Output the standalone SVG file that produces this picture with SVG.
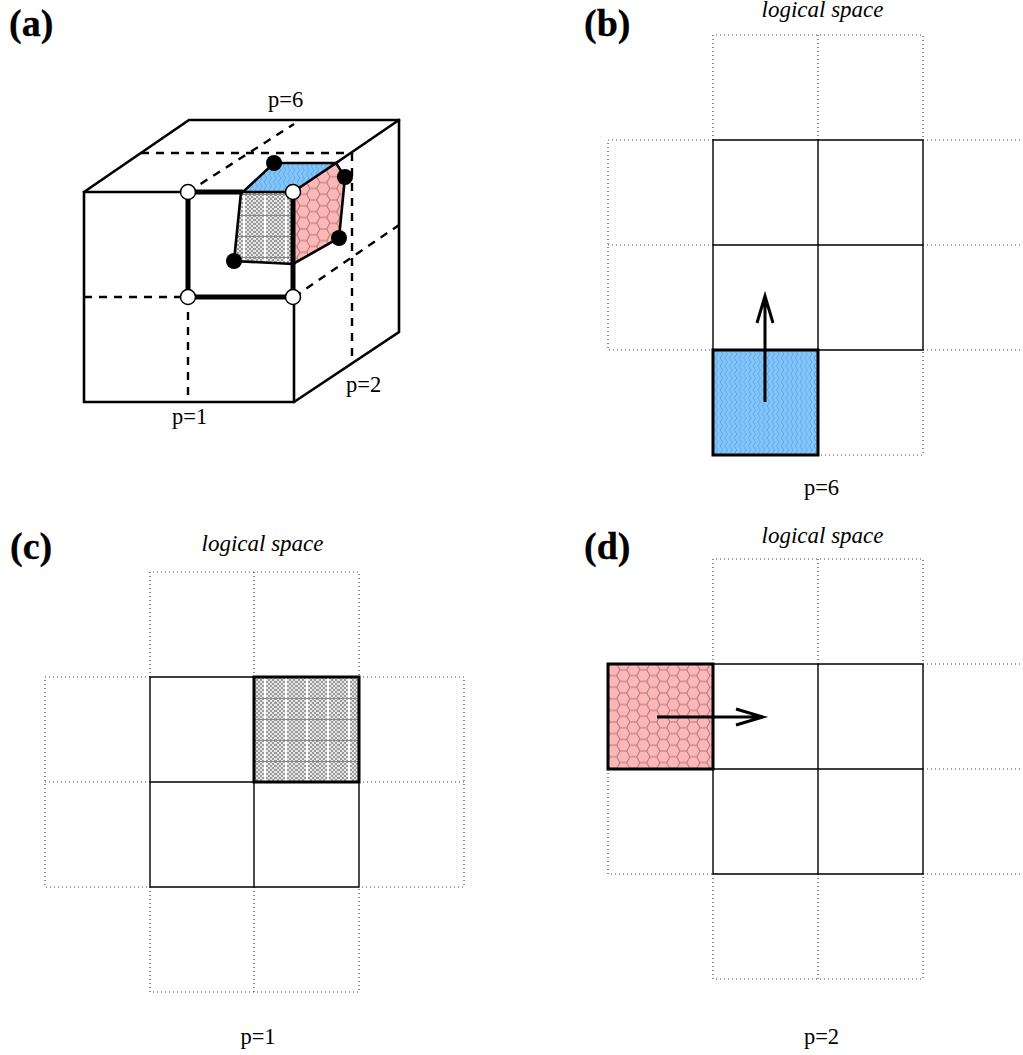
<svg xmlns="http://www.w3.org/2000/svg" width="1023" height="1055" viewBox="0 0 1023 1055">
<style>
text{font-family:"Liberation Serif","Times New Roman",serif;font-size:22.5px;fill:#000}
.h{font-weight:bold;font-size:38px;stroke:#000;stroke-width:.3}
.i{font-style:italic;font-size:23px}
.m{text-anchor:middle}
.d{fill:none;stroke:#444;stroke-width:1.2;stroke-dasharray:1 3}
.g{fill:none;stroke:#000;stroke-width:1.4}
.c{fill:none;stroke:#000;stroke-width:2.6;stroke-linecap:square}
.t{fill:none;stroke:#000;stroke-width:5}
.da{fill:none;stroke:#000;stroke-width:2.4;stroke-dasharray:8 7}
.o{fill:#fff;stroke:#000;stroke-width:1.5}
.a{fill:none;stroke:#000;stroke-width:3}
</style>
<defs>
<pattern id="hex" width="20" height="11.6" patternUnits="userSpaceOnUse" patternTransform="translate(610 664)">
<rect width="20" height="11.6" fill="#ffb6b6"/>
<path d="M0 0H6.67L10 5.8H16.67L20 11.6M16.67 5.8L20 0M10 5.8L6.67 11.6H0" fill="none" stroke="#a87a7a" stroke-width="1"/>
</pattern>
<pattern id="wave" width="4.7" height="8" patternUnits="userSpaceOnUse">
<rect width="4.7" height="8" fill="#80c6fc"/>
<path d="M2.3 0L3.6 2L1 6L2.3 8" fill="none" stroke="#5f9ad0" stroke-width="0.8"/>
</pattern>
<pattern id="chk" width="4" height="4" patternUnits="userSpaceOnUse">
<rect width="4" height="4" fill="#e6e6e6"/>
<rect width="2" height="2" fill="#9a9a9a"/>
<rect x="2" y="2" width="2" height="2" fill="#9a9a9a"/>
</pattern>
<pattern id="gry" width="21" height="21" patternUnits="userSpaceOnUse" patternTransform="translate(254 677)">
<rect width="21" height="21" fill="url(#chk)"/>
<rect x="10" width="2" height="21" fill="#fff"/>
<rect y="0" width="21" height="1" fill="#888"/>
</pattern>
</defs>

<g id="panel-a">
<path fill="url(#gry)" d="M241 192H293V264L234 261Z"/>
<path fill="url(#wave)" d="M243 192L274 163H336L293 192Z"/>
<path fill="url(#hex)" d="M293 192L336 163L345 177L339 238L293 264Z"/>
<g id="a-connectors">
<path class="c" d="M84 192H188M84 192V402H294V297M84 192L189 120H399M399 120V332L294 402M336 163L399 120"/>
<path class="da" d="M84 297H188M188 297V402M188 192L294 124M294 297L399 225M352 153V362M141 153H352"/>
<path class="t" d="M188 192H243M188 192V297H293M293 192V297"/>
<path class="c" d="M243 192H293M243 192L274 163H336L293 192M241 192L234 261L293 264M293 264L339 238L345 177L336 163"/>
</g>
<g id="a-points">
<circle cx="234" cy="261" r="8"/><circle cx="274" cy="163" r="8"/><circle cx="345" cy="177" r="8"/><circle cx="339" cy="238" r="8"/>
<circle class="o" cx="188" cy="192" r="7.5"/><circle class="o" cx="293" cy="192" r="7.5"/><circle class="o" cx="188" cy="297" r="7.5"/><circle class="o" cx="293" cy="297" r="7.5"/>
</g>
<text class="h" x="9" y="36">(a)</text>
<text x="268" y="107">p=6</text>
<text x="346" y="392">p=2</text>
<text x="172" y="424">p=1</text>
</g>

<g id="panel-b">
<path class="d" d="M713 140V35H923V140M818 35V140M713 140H608V350H713M608 245H713M923 140H1023M923 245H1023M923 350H1023M818 350V455H923V350"/>
<path class="g" d="M713 140H923V350H713ZM818 140V350M713 245H923"/>
<rect x="713" y="350" width="105" height="105" fill="url(#wave)" stroke="#000" stroke-width="3"/>
<path class="a" d="M765 402V296M757 323L765 296L773 323"/>
<text class="h" x="584" y="36">(b)</text>
<text class="i m" x="822.5" y="16.5">logical space</text>
<text class="m" x="821.5" y="495">p=6</text>
</g>

<g id="panel-c">
<path class="d" d="M150 677V572H359V677M254 572V677M150 677H45V887H150M45 782H150M359 677H464V887H359M359 782H464M150 887V992H359V887M254 887V992"/>
<path class="g" d="M150 677H359V887H150ZM254 677V887M150 782H359"/>
<rect x="254" y="677" width="105" height="105" fill="url(#gry)" stroke="#000" stroke-width="3"/>
<text class="h" x="10" y="559">(c)</text>
<text class="i m" x="262.5" y="551">logical space</text>
<text class="m" x="258" y="1044">p=1</text>
</g>

<g id="panel-d">
<path class="d" d="M713 664V559H923V664M818 559V664M608 769V874H713M608 664V769M923 664H1023M923 769H1023M923 874H1023M713 874V979H923V874M818 874V979"/>
<path class="g" d="M713 664H923V874H713ZM818 664V874M713 769H923"/>
<rect x="608" y="664" width="105" height="105" fill="url(#hex)" stroke="#000" stroke-width="3"/>
<path class="a" d="M657 717H763M736 709L763 717L736 725"/>
<text class="h" x="584" y="559">(d)</text>
<text class="i m" x="822.5" y="543">logical space</text>
<text class="m" x="821.5" y="1044">p=2</text>
</g>
</svg>
